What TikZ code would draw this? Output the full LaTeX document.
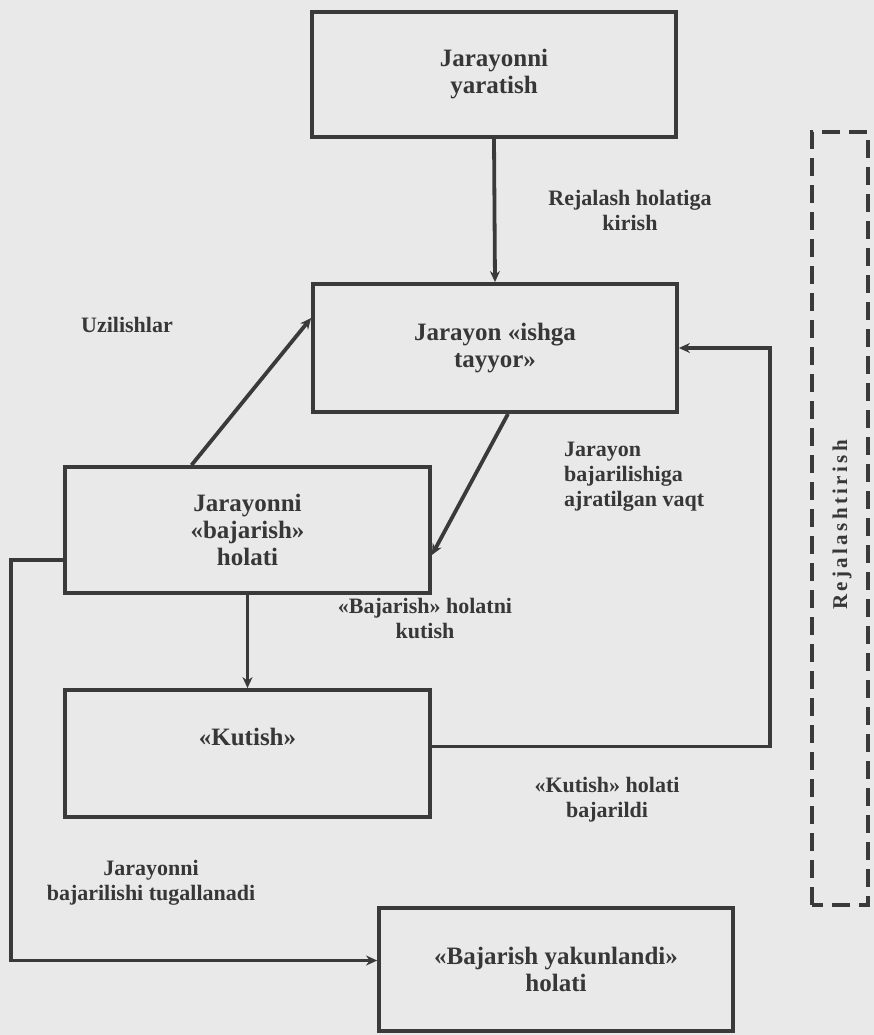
\documentclass[tikz,border=0pt]{standalone}
\usepackage{fontspec}
\setmainfont{Liberation Serif}
\newfontfamily\spacedserif[LetterSpace=16]{Liberation Serif}
\usetikzlibrary{arrows.meta}
\definecolor{paper}{RGB}{233,233,233}
\definecolor{ink}{RGB}{58,58,58}
\definecolor{txt}{RGB}{55,55,55}
\tikzset{
  statebox/.style={draw=ink, line width=3.8pt, rectangle, fill=none,
    text=txt, font=\fontsize{25}{27}\selectfont\bfseries, align=center},
  lbl/.style={text=txt, font=\fontsize{22}{25}\selectfont\bfseries, align=center, inner sep=0pt},
  arr/.style={draw=ink, line width=3.8pt, -{Stealth[length=11pt,width=10pt]}},
  bracket/.style={draw=ink, line width=4pt, dash pattern=on 18pt off 9pt}
}
\begin{document}
\begin{tikzpicture}[x=1pt,y=-1pt]
  % page and its margins
  \fill[paper] (0,0) rectangle (874,1035);
  \useasboundingbox (0,0) rectangle (874,1035);

  % states
  \node[statebox, minimum width=364pt, minimum height=125pt] (create) at (494,74.5)
    {Jarayonni\\yaratish};
  \node[statebox, minimum width=364pt, minimum height=128pt] (ready) at (495,348)
    {Jarayon «ishga\\tayyor»};
  \node[statebox, minimum width=365pt, minimum height=126pt] (run) at (247.5,530)
    {Jarayonni\\«bajarish»\\holati};
  \node[statebox, minimum width=365pt, minimum height=127pt] (wait) at (247.5,753.5) {};
  \node[text=txt, font=\fontsize{25}{27}\selectfont\bfseries] (waittext) at (247.5,737) {«Kutish»};
  \node[statebox, minimum width=354pt, minimum height=123pt] (done) at (556,969.5)
    {«Bajarish yakunlandi»\\holati};

  % transitions
  \draw[arr] (create.south) -- (ready.north);
  \draw[arr] ([xshift=-56pt]run.north) -- ([yshift=30pt]ready.west);
  \draw[arr] ([xshift=13pt]ready.south) -- ([yshift=-25pt]run.east);
  \draw[arr] (run.south) -- (wait.north);
  \draw[arr] ([yshift=7pt]wait.east) -- ++(338,0) |- (ready.east);
  \draw[arr] ([yshift=-30pt]run.west) -- ++(-52,0) |- ([yshift=9pt]done.west);

  % transition labels
  \node[lbl] (l-enter) at (630,210) {Rejalash holatiga\\kirish};
  \node[lbl] (l-int) at (127,325) {Uzilishlar};
  \node[lbl, align=left, anchor=west] (l-time) at (564,477)
    {Jarayon\\bajarilishiga\\ajratilgan vaqt};
  \node[lbl] (l-waitfor) at (425,618) {«Bajarish» holatni\\kutish};
  \node[lbl] (l-waitdone) at (607,800) {«Kutish» holati\\bajarildi};
  \node[lbl] (l-finish) at (151,883) {Jarayonni\\bajarilishi tugallanadi};

  % scheduling frame
  \draw[bracket] (812,905) -- (812,132) -- (868,132) -- (868,905) -- cycle;
  \node[text=txt, rotate=90, font=\fontsize{21}{22}\selectfont\spacedserif\bfseries] (plan) at (842,525) {Rejalashtirish};
\end{tikzpicture}
\end{document}
